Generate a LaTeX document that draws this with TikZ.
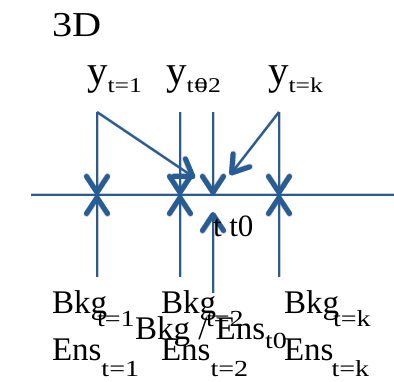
\documentclass[tikz,border=0pt]{standalone}
\usepackage{fontspec}
\setmainfont{Liberation Serif}
\usetikzlibrary{arrows.meta}
\definecolor{lb}{RGB}{40,92,148}
\newcommand{\lbl}[6]{{\fontsize{#1}{#1}\selectfont #2}\kern#6pt\raisebox{-#5pt}{\scalebox{1.22}[1]{\fontsize{#3}{#3}\selectfont #4}}}
\tikzset{
  lab/.style={anchor=base west, inner sep=0pt, outer sep=0pt},
  conn/.style={draw=lb, line width=2.2pt, -{Straight Barb[length=16pt,width=21pt,line width=5pt,round]}},
  shad/.style={draw=black, opacity=0.2, line width=3pt, -{Straight Barb[length=16pt,width=21pt,line width=6pt,round]}, shift={(1.5pt,-2.5pt)}},
  axis/.style={draw=lb, line width=2.2pt}
}
\begin{document}
\begin{tikzpicture}[x=1pt,y=-1pt]
\useasboundingbox (0,0) rectangle (394,382);
% coordinates
\coordinate (L) at (31,195);
\coordinate (R) at (394,195);
\coordinate (t1top) at (97,112);
\coordinate (t1ax) at (97,195);
\coordinate (t1bot) at (97,277);
\coordinate (t2top) at (180,112);
\coordinate (t2ax) at (180,195);
\coordinate (t2bot) at (180,277);
\coordinate (t0top) at (213,112);
\coordinate (t0ax) at (213,195);
\coordinate (t0bot) at (213,293);
\coordinate (t0up) at (213,212);
\coordinate (tktop) at (279,112);
\coordinate (tkax) at (279,195);
\coordinate (tkbot) at (279,277);
\coordinate (d1) at (195,178);
\coordinate (d2) at (230,175);
% shadows
\draw[opacity=0.2, line width=3pt, shift={(1.5pt,-2.5pt)}] (L) -- (R);
\foreach \a/\b in {t1top/t1ax, t1bot/t1ax, t2top/t2ax, t2bot/t2ax, t0top/t0ax, t0bot/t0up, tktop/tkax, tkbot/tkax, t1top/d1, tktop/d2}
  \path[shad] (\a) -- (\b);
% axis
\draw[axis] (L) -- (R);
% connectors
\foreach \a/\b in {t1top/t1ax, t1bot/t1ax, t2top/t2ax, t2bot/t2ax, t0top/t0ax, t0bot/t0up, tktop/tkax, tkbot/tkax, t1top/d1, tktop/d2}
  \path[conn] (\a) -- (\b);
% texts
\node[lab] (title) at (52,37) {\scalebox{1.15}[1]{\fontsize{35}{35}\selectfont 3D}};
\node[lab] (y1) at (87,85) {\lbl{41}{y}{21}{t=1}{8}{0}};
\node[lab] (y2) at (166,85) {\lbl{41}{y}{21}{t\makebox[0pt][l]{\hspace{1pt}0}=2}{8}{0}};
\node[lab] (yk) at (268,85) {\lbl{41}{y}{21}{t=k}{8}{0}};
\node[lab] (tt0) at (213,237) {\fontsize{31}{31}\selectfont t t0};
\node[lab] (b1) at (52,314) {\lbl{33}{Bkg}{23}{t=1}{13}{-10}};
\node[lab] (b2) at (161,314) {\lbl{33}{Bkg}{23}{t=2}{13}{-10}};
\node[lab] (bk) at (284,314) {\lbl{33}{Bkg}{23}{t=k}{13}{-6}};
\node[lab] (be) at (135,340) {\lbl{33}{Bkg / Ens}{23}{t0}{9}{0}};
\node[lab] (e1) at (52,361) {\lbl{33}{Ens}{23}{t=1}{16}{0}};
\node[lab] (e2) at (161,361) {\lbl{33}{Ens}{23}{t=2}{16}{0}};
\node[lab] (ek) at (284,361) {\lbl{33}{Ens}{23}{t=k}{16}{-2}};
\end{tikzpicture}
\end{document}
